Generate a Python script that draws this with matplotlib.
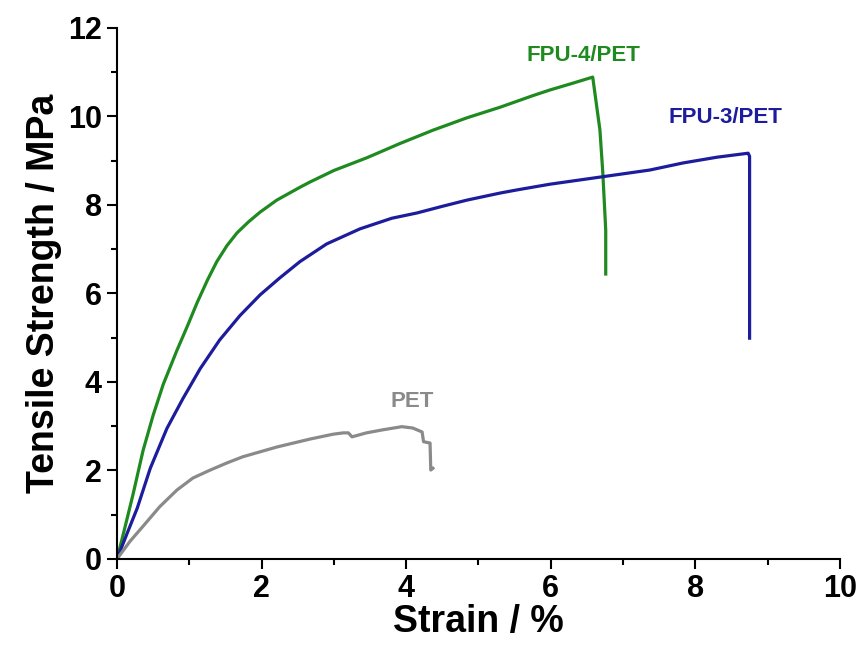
import numpy as np
import matplotlib
matplotlib.use('Agg')
import matplotlib.pyplot as plt
from matplotlib.ticker import MultipleLocator

# ======================
# DATOS
# ======================
fpu4_strain = [0, 0.10, 0.22, 0.36, 0.50, 0.64, 0.83, 0.97, 1.11, 1.25, 1.38, 1.52, 1.66,
               1.82, 1.98, 2.21, 2.53, 2.67, 3.0, 3.46, 3.9, 4.37, 4.84, 5.30, 5.75,
               5.99, 6.30, 6.54, 6.58, 6.68, 6.72, 6.76, 6.76]
fpu4_stress = [0, 0.65, 1.45, 2.45, 3.25, 3.95, 4.72, 5.25, 5.80, 6.30, 6.72, 7.08, 7.37,
               7.62, 7.84, 8.11, 8.40, 8.52, 8.78, 9.07, 9.38, 9.69, 9.97, 10.21, 10.47,
               10.60, 10.75, 10.87, 10.89, 9.69, 8.72, 7.43, 6.44]

fpu3_strain = [0, 0.14, 0.28, 0.46, 0.69, 0.91, 1.15, 1.42, 1.70, 1.98, 2.25, 2.53, 2.90,
               3.36, 3.80, 4.15, 4.50, 4.84, 5.30, 5.53, 5.99, 6.68, 7.37, 7.83, 8.30,
               8.73, 8.75, 8.75]
fpu3_stress = [0, 0.58, 1.15, 2.05, 2.95, 3.62, 4.30, 4.95, 5.50, 5.97, 6.35, 6.72, 7.12,
               7.46, 7.70, 7.82, 7.97, 8.11, 8.27, 8.34, 8.47, 8.63, 8.79, 8.95, 9.08,
               9.17, 9.10, 4.99]

pet_strain = [0, 0.18, 0.36, 0.59, 0.83, 1.05, 1.29, 1.52, 1.74, 2.21, 2.67, 2.99, 3.13,
              3.20, 3.25, 3.45, 3.68, 3.94, 4.09, 4.22, 4.24, 4.33, 4.34, 4.37]
pet_stress = [0, 0.40, 0.74, 1.18, 1.56, 1.83, 2.01, 2.17, 2.31, 2.53, 2.71, 2.82, 2.85,
              2.85, 2.76, 2.85, 2.92, 2.99, 2.96, 2.87, 2.65, 2.62, 2.01, 2.05]

etiquetas = ['FPU-4/PET', 'FPU-3/PET', 'PET']
pos_etiquetas = [(6.45, 11.38), (8.41, 9.97), (4.08, 3.55)]
colores = ['#1f8a1f', '#1c1c9c', '#8a8a8a']

plt.rcParams['font.family'] = ['Liberation Sans', 'DejaVu Sans']
plt.rcParams['font.weight'] = 'bold'

fig = plt.figure(figsize=(8.63, 6.57), dpi=100)
ax = fig.add_axes([0.1356, 0.1492, 0.8377, 0.8082])

ax.plot(fpu4_strain, fpu4_stress, color=colores[0], lw=2.3)
ax.plot(fpu3_strain, fpu3_stress, color=colores[1], lw=2.3)
ax.plot(pet_strain, pet_stress, color=colores[2], lw=2.3)

for txt, (x, y), c in zip(etiquetas, pos_etiquetas, colores):
    ax.text(x, y, txt, color=c, fontsize=16, fontweight='bold', ha='center', va='center')

ax.set_xlim(0, 10)
ax.set_ylim(0, 12)
ax.xaxis.set_major_locator(MultipleLocator(2))
ax.xaxis.set_minor_locator(MultipleLocator(1))
ax.yaxis.set_major_locator(MultipleLocator(2))
ax.yaxis.set_minor_locator(MultipleLocator(1))

for lado in ['top', 'right']:
    ax.spines[lado].set_visible(False)
for lado in ['left', 'bottom']:
    ax.spines[lado].set_linewidth(1.5)

ax.tick_params(which='major', direction='out', length=7, width=1.5, labelsize=22, pad=4)
ax.tick_params(which='minor', direction='out', length=4, width=1.5)
for lab in ax.get_xticklabels() + ax.get_yticklabels():
    lab.set_fontweight('bold')

ax.set_xlabel('Strain / %', fontsize=27, fontweight='bold', labelpad=0)
ax.set_ylabel('Tensile Strength / MPa', fontsize=27, fontweight='bold', labelpad=4)

fig.savefig('out.png', dpi=100)
